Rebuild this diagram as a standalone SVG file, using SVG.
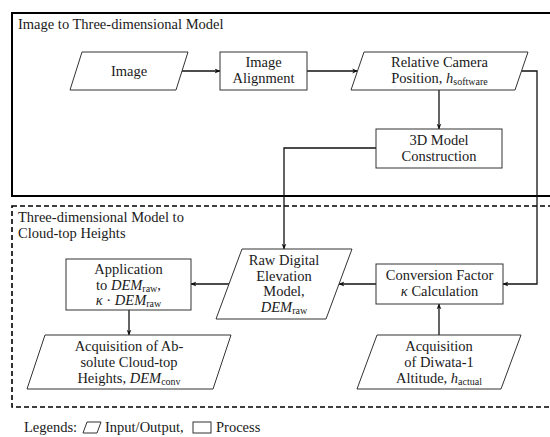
<svg xmlns="http://www.w3.org/2000/svg" width="550" height="437" viewBox="0 0 550 437">
<style>
text{font-family:"Liberation Serif","Times New Roman",serif;font-size:14.5px;fill:#1a1a1a}
.c{text-anchor:middle}
.i{font-style:italic}
.s{font-size:10px}
.node{fill:#fff;stroke:#333;stroke-width:1}
.conn{fill:none;stroke:#111;stroke-width:1.3;marker-end:url(#ah)}
.frame{fill:none;stroke:#000;stroke-width:2}
.dframe{fill:none;stroke:#000;stroke-width:1.6;stroke-dasharray:5,3}
</style>
<defs>
<marker id="ah" viewBox="0 0 10 10" refX="9" refY="5" markerWidth="6" markerHeight="6" orient="auto" markerUnits="userSpaceOnUse">
<path d="M0,1 L10,5 L0,9 L3,5 Z" fill="#111"/>
</marker>
</defs>
<rect width="550" height="437" fill="#fff"/>
<g id="frame-top">
<rect class="frame" x="12" y="13" width="560" height="183"/>
<text x="18" y="29">Image to Three-dimensional Model</text>
</g>
<g id="frame-bottom">
<rect class="dframe" x="12" y="206" width="560" height="201"/>
<text x="18" y="222">Three-dimensional Model to</text>
<text x="18" y="238">Cloud-top Heights</text>
</g>
<g id="connectors">
<path class="conn" d="M181.5,71 H220"/>
<path class="conn" d="M307,71 H357.5"/>
<path class="conn" d="M439,90 V129"/>
<path class="conn" d="M376,148 H284 V249"/>
<path class="conn" d="M521.5,71 H537 V284 H503"/>
<path class="conn" d="M376,284 H339"/>
<path class="conn" d="M229,284 H191"/>
<path class="conn" d="M129,310 V335"/>
<path class="conn" d="M439,335 V304"/>
</g>
<g id="image">
<polygon class="node" points="82,52 188,52 176,90 70,90"/>
<text class="c" x="129" y="76">Image</text>
</g>
<g id="alignment">
<rect class="node" x="220" y="52" width="87" height="38"/>
<text class="c" x="263.5" y="67">Image</text>
<text class="c" x="263.5" y="83">Alignment</text>
</g>
<g id="camera">
<polygon class="node" points="364,52 528,52 515,90 351,90"/>
<text class="c" x="439.5" y="67">Relative Camera</text>
<text class="c" x="439.5" y="83">Position, <tspan class="i">h</tspan><tspan class="s" dy="2">software</tspan></text>
</g>
<g id="model3d">
<rect class="node" x="376" y="129" width="126" height="39"/>
<text class="c" x="439" y="144.5">3D Model</text>
<text class="c" x="439" y="160.5">Construction</text>
</g>
<g id="rawdem">
<polygon class="node" points="242,249 352,249 326,319 216,319"/>
<text class="c" x="284" y="265">Raw Digital</text>
<text class="c" x="284" y="281">Elevation</text>
<text class="c" x="284" y="296">Model,</text>
<text class="c" x="284" y="312"><tspan class="i">DEM</tspan><tspan class="s" dy="2">raw</tspan></text>
</g>
<g id="conversion">
<rect class="node" x="376" y="264" width="127" height="40"/>
<text class="c" x="439.5" y="280">Conversion Factor</text>
<text class="c" x="439.5" y="296"><tspan class="i">κ</tspan> Calculation</text>
</g>
<g id="application">
<rect class="node" x="66" y="259" width="125" height="51"/>
<text class="c" x="128.5" y="274">Application</text>
<text class="c" x="128.5" y="290">to <tspan class="i">DEM</tspan><tspan class="s" dy="2">raw</tspan><tspan dy="-2">,</tspan></text>
<text class="c" x="128.5" y="305"><tspan class="i">κ</tspan> · <tspan class="i">DEM</tspan><tspan class="s" dy="2">raw</tspan></text>
</g>
<g id="absolute">
<polygon class="node" points="45,335 231,335 213,389 27,389"/>
<text class="c" x="129" y="351">Acquisition of Ab-</text>
<text class="c" x="129" y="367">solute Cloud-top</text>
<text class="c" x="129" y="383">Heights, <tspan class="i">DEM</tspan><tspan class="s" dy="2">conv</tspan></text>
</g>
<g id="diwata">
<polygon class="node" points="377,335 521,335 501,389 357,389"/>
<text class="c" x="439" y="351">Acquisition</text>
<text class="c" x="439" y="367">of Diwata-1</text>
<text class="c" x="439" y="383">Altitude, <tspan class="i">h</tspan><tspan class="s" dy="2">actual</tspan></text>
</g>
<g id="legend">
<text x="24" y="432">Legends:</text>
<polygon class="node" points="87,422 101,422 97,433 83,433"/>
<text x="105" y="432">Input/Output,</text>
<rect class="node" x="193" y="422" width="18" height="11"/>
<text x="216" y="432">Process</text>
</g>
</svg>
